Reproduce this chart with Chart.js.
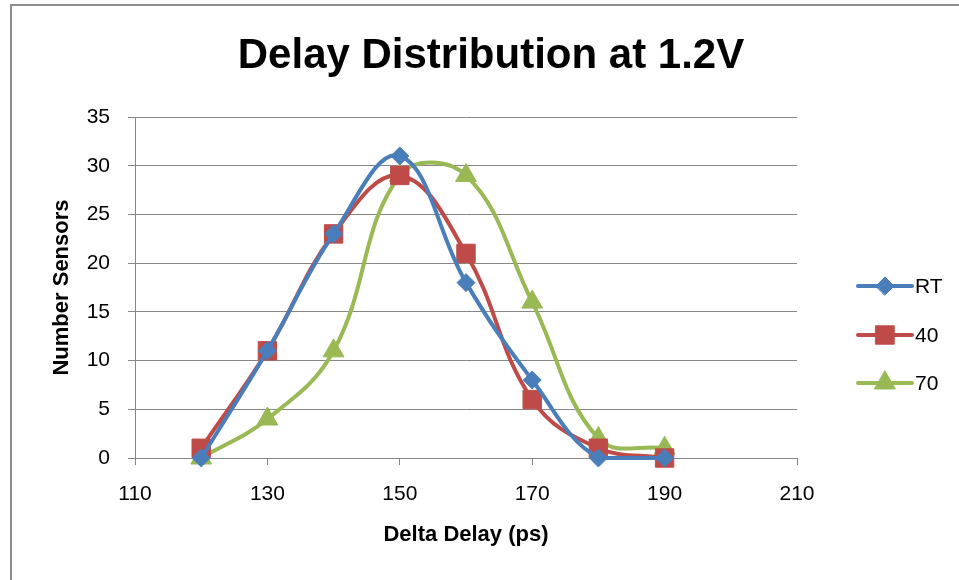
<!DOCTYPE html>
<html>
<head>
<meta charset="utf-8">
<script src="https://cdn.jsdelivr.net/npm/chart.js@4/dist/chart.umd.min.js"></script>
<style>
  html, body { margin: 0; padding: 0; background: #ffffff; }
  #wrap { width: 959px; height: 580px; position: relative; }
</style>
</head>
<body>
<div id="wrap"><canvas id="c" width="959" height="580"></canvas></div>
<script>
// ---- data ----
const xValues = [120, 130, 140, 150, 160, 170, 180, 190];
const seriesNames = ['RT', '40', '70'];
const rtValues = [0, 11, 23, 31, 18, 8, 0, 0];
const t40Values = [1, 11, 23, 29, 21, 6, 1, 0];
const t70Values = [0, 4, 11, 29, 29, 16, 2, 1];
const chartTitle = 'Delay Distribution at 1.2V';
const xTitle = 'Delta Delay (ps)';
const yTitle = 'Number Sensors';

const FONT = "'Liberation Sans', Arial, sans-serif";
const colors = ['#4a7ebb', '#be4b48', '#98b954'];
const pointStyles = ['rectRot', 'rect', 'triangle'];
const pointRadii = [9, 13, 12];

function toPoints(vals) { return xValues.map((x, i) => ({ x: x, y: vals[i] })); }
const allValues = [rtValues, t40Values, t70Values];

const datasets = allValues.map((vals, i) => ({
  label: seriesNames[i],
  data: toPoints(vals),
  showLine: true,
  borderColor: colors[i],
  backgroundColor: colors[i],
  borderWidth: 4,
  tension: 0.4,
  pointStyle: pointStyles[i],
  pointRadius: pointRadii[i],
  pointHoverRadius: pointRadii[i],
  pointBackgroundColor: colors[i],
  pointBorderColor: colors[i],
  pointBorderWidth: 1,
  clip: false
}));

const framePlugin = {
  id: 'frame',
  beforeDraw(chart) {
    const ctx = chart.ctx;
    ctx.save();
    ctx.fillStyle = '#ffffff';
    ctx.fillRect(0, 0, chart.width, chart.height);
    ctx.strokeStyle = '#8c8c8c';
    ctx.lineWidth = 2;
    ctx.beginPath();
    ctx.moveTo(11, chart.height + 5);
    ctx.lineTo(11, 5);
    ctx.lineTo(chart.width + 5, 5);
    ctx.stroke();
    // title
    ctx.fillStyle = '#000000';
    ctx.font = 'bold 42px ' + FONT;
    ctx.textAlign = 'center';
    ctx.textBaseline = 'alphabetic';
    ctx.fillText(chartTitle, 491, 68);
    ctx.restore();
  }
};

const legendPlugin = {
  id: 'sideLegend',
  afterDraw(chart) {
    const ctx = chart.ctx;
    const x0 = 858, x1 = 912, ys = [286, 335, 383];
    ctx.save();
    chart.data.datasets.forEach((ds, i) => {
      const y = ys[i];
      ctx.strokeStyle = ds.borderColor;
      ctx.lineWidth = 4;
      ctx.lineCap = 'round';
      ctx.beginPath();
      ctx.moveTo(x0, y);
      ctx.lineTo(x1, y);
      ctx.stroke();
      ctx.fillStyle = ds.backgroundColor;
      ctx.strokeStyle = ds.borderColor;
      ctx.lineWidth = 1;
      Chart.helpers.drawPoint(ctx, { pointStyle: ds.pointStyle, radius: ds.pointRadius, borderWidth: 1 }, (x0 + x1) / 2, y);
      ctx.fillStyle = '#000000';
      ctx.font = '21px ' + FONT;
      ctx.textBaseline = 'middle';
      ctx.textAlign = 'left';
      ctx.fillText(ds.label, x1 + 3, y + 1);
    });
    ctx.restore();
  }
};

new Chart(document.getElementById('c'), {
  type: 'scatter',
  data: { datasets: datasets },
  options: {
    responsive: false,
    animation: false,
    devicePixelRatio: 1,
    layout: { padding: { left: 0, right: 162, top: 117, bottom: 0 } },
    plugins: {
      legend: { display: false },
      tooltip: { enabled: false },
      title: { display: false }
    },
    scales: {
      x: {
        type: 'linear',
        min: 110,
        max: 210,
        afterFit(scale) { scale.height = 122; },
        ticks: {
          stepSize: 20,
          color: '#000000',
          font: { family: FONT, size: 21 },
          padding: 17,
          maxRotation: 0
        },
        grid: {
          display: true,
          drawOnChartArea: false,
          drawTicks: true,
          tickLength: 7,
          color: '#868686',
          lineWidth: 1
        },
        border: { display: true, color: '#868686', width: 1 },
        title: {
          display: true,
          text: xTitle,
          color: '#000000',
          font: { family: FONT, size: 22, weight: 'bold', lineHeight: 1.2 },
          padding: { top: 0, bottom: 32 }
        }
      },
      y: {
        type: 'linear',
        min: 0,
        max: 35,
        afterFit(scale) { scale.width = 135; },
        ticks: {
          stepSize: 5,
          color: '#000000',
          font: { family: FONT, size: 21 },
          padding: 18
        },
        grid: {
          display: true,
          drawOnChartArea: true,
          drawTicks: true,
          tickLength: 7,
          color: '#868686',
          lineWidth: 1
        },
        border: { display: true, color: '#868686', width: 1 },
        title: {
          display: true,
          text: yTitle,
          color: '#000000',
          font: { family: FONT, size: 22, weight: 'bold', lineHeight: 1.2 },
          padding: { top: 49, bottom: 0 }
        }
      }
    }
  },
  plugins: [framePlugin, legendPlugin]
});
</script>
</body>
</html>
